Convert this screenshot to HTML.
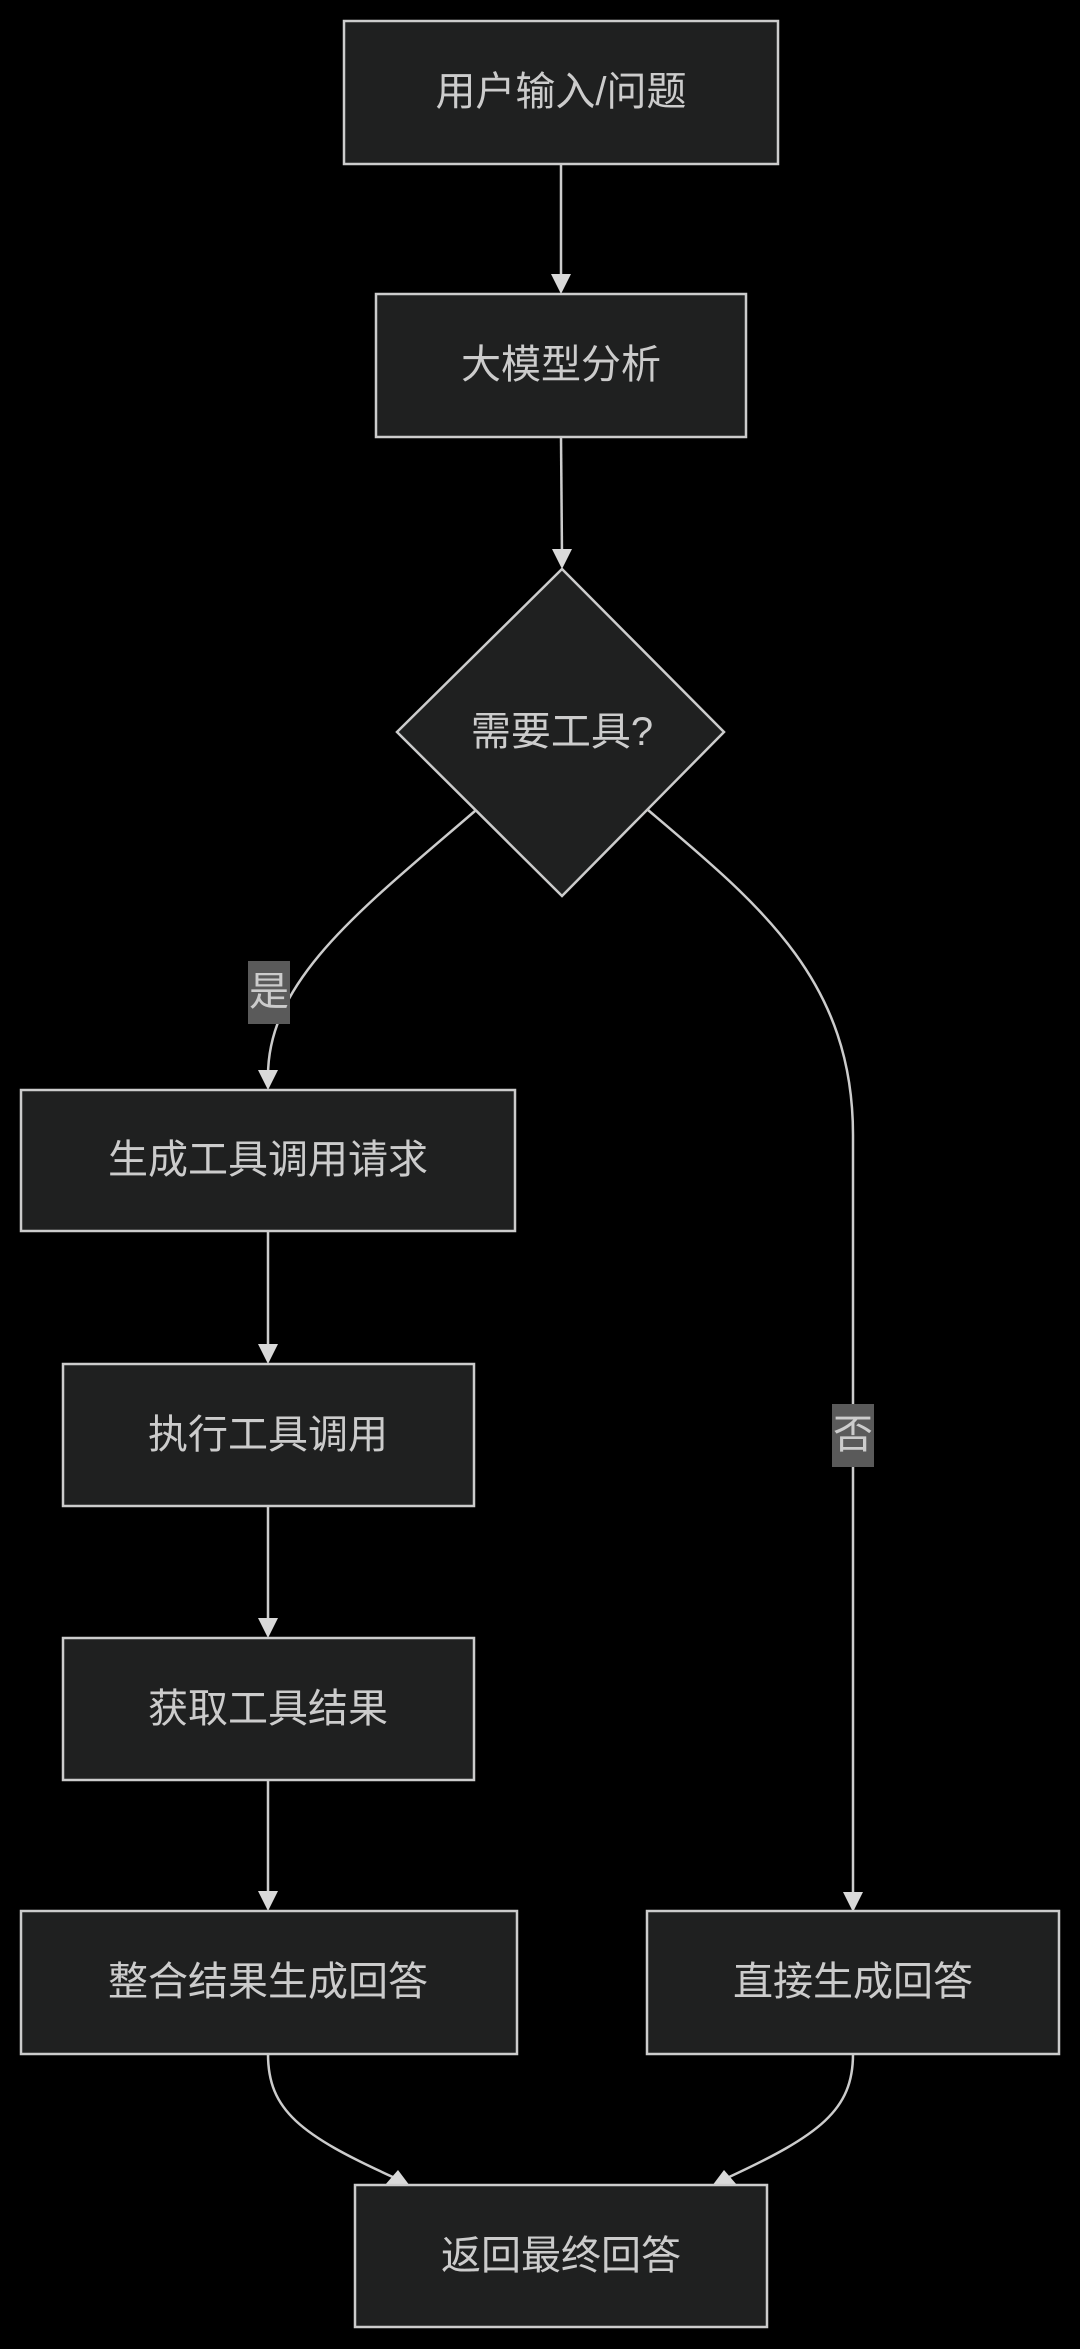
<!DOCTYPE html>
<html><head><meta charset="utf-8"><style>
html,body{margin:0;padding:0;background:#000;}
svg{display:block;}
text{font-family:"Liberation Sans","Noto Sans CJK SC",sans-serif;fill:#cccccc;font-size:40px;text-anchor:middle;dominant-baseline:central;}
.n{fill:#1f2020;stroke:#cccccc;stroke-width:2.5;}
.e{fill:none;stroke:#cccccc;stroke-width:2.5;}
.a{fill:#d9d9d9;}
</style></head><body>
<svg width="1080" height="2349" viewBox="0 0 1080 2349" xmlns="http://www.w3.org/2000/svg">
<rect width="1080" height="2349" fill="#000"/>
<!-- edges -->
<path class="e" d="M561,164 L561,280"/>
<polygon class="a" points="551,274 571,274 561,294"/>
<path class="e" d="M561,437 L562,556"/>
<polygon class="a" points="552,549 572,549 562,569"/>
<path class="e" d="M475,811 C360,910 268,980 268,1076"/>
<polygon class="a" points="258,1070 278,1070 268,1090"/>
<path class="e" d="M648,810 C760,905 853,980 853,1135 L853,1898"/>
<polygon class="a" points="843,1892 863,1892 853,1912"/>
<path class="e" d="M268,1231 L268,1350"/>
<polygon class="a" points="258,1344 278,1344 268,1364"/>
<path class="e" d="M268,1506 L268,1624"/>
<polygon class="a" points="258,1618 278,1618 268,1638"/>
<path class="e" d="M268,1780 L268,1897"/>
<polygon class="a" points="258,1891 278,1891 268,1911"/>
<path class="e" d="M268,2054 C268,2110 300,2135 395,2178"/>
<polygon class="a" points="385,2185 398,2170 410,2186"/>
<path class="e" d="M853,2054 C853,2110 820,2135 727,2178"/>
<polygon class="a" points="712,2186 724,2170 737,2185"/>
<!-- labels -->
<rect x="248" y="961" width="42" height="63" fill="#5a5a5a"/>
<text x="269" y="992">是</text>
<rect x="832" y="1404" width="42" height="63" fill="#5a5a5a"/>
<text x="853" y="1435">否</text>
<!-- nodes -->
<rect class="n" x="344" y="21" width="434" height="143"/>
<text x="561" y="92">用户输入/问题</text>
<rect class="n" x="376" y="294" width="370" height="143"/>
<text x="561" y="365">大模型分析</text>
<polygon class="n" points="562,569 724,732 562,896 397,732"/>
<text x="562" y="732">需要工具?</text>
<rect class="n" x="21" y="1090" width="494" height="141"/>
<text x="268" y="1160">生成工具调用请求</text>
<rect class="n" x="63" y="1364" width="411" height="142"/>
<text x="268" y="1435">执行工具调用</text>
<rect class="n" x="63" y="1638" width="411" height="142"/>
<text x="268" y="1709">获取工具结果</text>
<rect class="n" x="21" y="1911" width="496" height="143"/>
<text x="268" y="1982">整合结果生成回答</text>
<rect class="n" x="647" y="1911" width="412" height="143"/>
<text x="853" y="1982">直接生成回答</text>
<rect class="n" x="355" y="2185" width="412" height="142"/>
<text x="561" y="2256">返回最终回答</text>
</svg>
</body></html>
